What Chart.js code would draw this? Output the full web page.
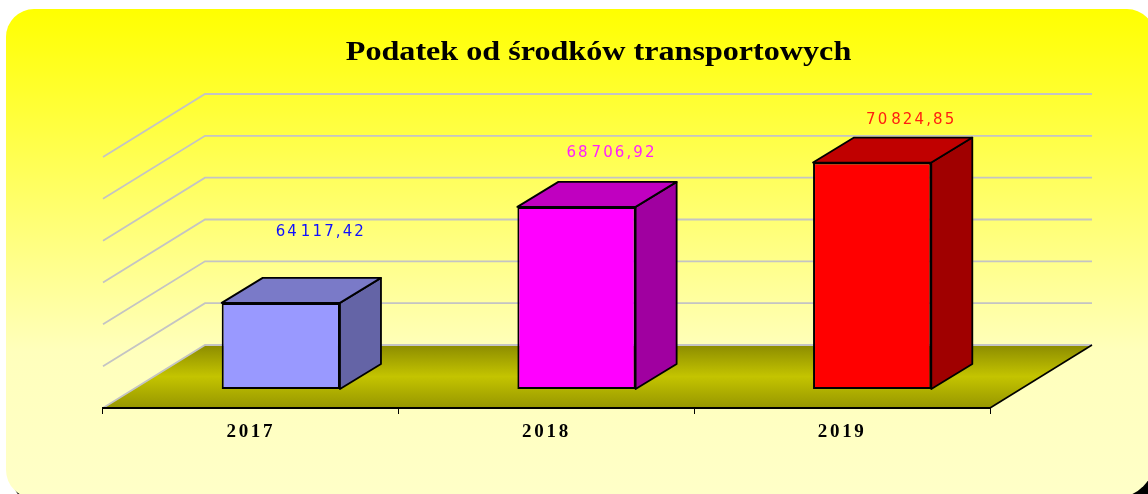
<!DOCTYPE html>
<html><head><meta charset="utf-8">
<style>html,body{margin:0;padding:0;background:#fff}canvas{display:block}</style>
<script src="https://cdn.jsdelivr.net/npm/chart.js@4"></script>
</head><body><canvas id="c" width="1148" height="494"></canvas>
<script>
const chartTitle = "Podatek od środków transportowych";
const categories = ["2017", "2018", "2019"];
const values = [64117.42, 68706.92, 70824.85];
const valueLabels = ["64 117,42", "68 706,92", "70 824,85"];
const gridValues = [60000, 62000, 64000, 66000, 68000, 70000, 72000];

const frontColors = ["#9999ff", "#ff00ff", "#ff0000"];
const topColors = ["#7a7ac8", "#c000c0", "#c00000"];
const sideColors = ["#6464a6", "#a000a0", "#a00000"];
const labelColors = ["#1010ff", "#ff20ff", "#ff2010"];
const labelLift = [71, 54, 42];
const labelShift = [70, 65, 69];

const WALL = {dx: 102, dy: -63};
const BAR_OFFSET = {dx: 30, dy: -19};
const BAR_DEPTH = {dx: 41, dy: -25};
const TITLE_STRETCH = 1.19;

function poly(ctx, pts, fill, stroke, lw) {
  ctx.beginPath();
  pts.forEach((p, i) => i ? ctx.lineTo(p[0], p[1]) : ctx.moveTo(p[0], p[1]));
  ctx.closePath();
  if (fill) { ctx.fillStyle = fill; ctx.fill(); }
  if (stroke) { ctx.strokeStyle = stroke; ctx.lineWidth = lw; ctx.lineJoin = "round"; ctx.stroke(); }
}

const scene = {
  id: "scene",
  afterLayout(chart) {
    const t = chart.titleBlock, ctx = chart.ctx;
    t.left += 52; t.right += 52;
    if (!t._wrapped) {
      t._wrapped = true;
      const d = t.draw;
      t.draw = function () {
        const cx = (t.left + t.right) / 2;
        ctx.save();
        ctx.letterSpacing = "0px";
        ctx.translate(cx, 0); ctx.scale(TITLE_STRETCH, 1); ctx.translate(-cx, 0);
        d.call(t);
        ctx.restore();
      };
    }
  },
  beforeDraw(chart) {
    const ctx = chart.ctx;
    ctx.save();
    ctx.beginPath(); ctx.roundRect(12, 15, 1148, 490, 28);
    ctx.fillStyle = "#000"; ctx.fill();
    const g = ctx.createLinearGradient(0, 9, 0, 498);
    g.addColorStop(0, "#ffff00");
    g.addColorStop(0.7, "#ffffbc");
    g.addColorStop(1, "#ffffc8");
    ctx.beginPath(); ctx.roundRect(6, 9, 1149, 489, [28, 28, 40, 28]);
    ctx.fillStyle = g; ctx.fill();
    ctx.restore();
    ctx.letterSpacing = "2.7px";
  },
  beforeDatasetsDraw(chart) {
    const ctx = chart.ctx, x = chart.scales.x, y = chart.scales.y;
    const L = x.left, R = x.right, B = y.getPixelForValue(gridValues[0]);
    ctx.save();
    ctx.letterSpacing = "0px";
    // floor
    const fg = ctx.createLinearGradient(0, B + WALL.dy, 0, B);
    fg.addColorStop(0, "#8c8c00");
    fg.addColorStop(0.5, "#c4c400");
    fg.addColorStop(1, "#969600");
    poly(ctx, [[L, B], [R, B], [R + WALL.dx, B + WALL.dy], [L + WALL.dx, B + WALL.dy]], fg);
    // walls
    ctx.strokeStyle = "#c4c4c4"; ctx.lineWidth = 1.8;
    gridValues.forEach(v => {
      const p = y.getPixelForValue(v);
      ctx.beginPath();
      ctx.moveTo(L, p);
      ctx.lineTo(L + WALL.dx, p + WALL.dy);
      ctx.lineTo(R + WALL.dx, p + WALL.dy);
      ctx.stroke();
    });
    ctx.strokeStyle = "#000"; ctx.lineWidth = 1.6;
    ctx.beginPath(); ctx.moveTo(R, B); ctx.lineTo(R + WALL.dx, B + WALL.dy); ctx.stroke();
    // bar depth faces
    chart.getDatasetMeta(0).data.forEach((bar, i) => {
      const l = bar.x - bar.width / 2 + BAR_OFFSET.dx, r = bar.x + bar.width / 2 + BAR_OFFSET.dx;
      const t = bar.y + BAR_OFFSET.dy, b = bar.base + BAR_OFFSET.dy;
      const dx = BAR_DEPTH.dx, dy = BAR_DEPTH.dy;
      poly(ctx, [[r, b], [r + dx, b + dy], [r + dx, t + dy], [r, t]], sideColors[i], "#000", 1.8);
      poly(ctx, [[l, t], [l + dx, t + dy], [r + dx, t + dy], [r, t]], topColors[i], "#000", 1.8);
    });
    ctx.restore();
    ctx.save();
    ctx.translate(BAR_OFFSET.dx, BAR_OFFSET.dy);
  },
  afterDatasetsDraw(chart) {
    const ctx = chart.ctx;
    ctx.restore();
    ctx.save();
    ctx.font = "15px 'DejaVu Sans'";
    ctx.letterSpacing = "2.1px";
    ctx.wordSpacing = "-5px";
    ctx.textAlign = "center";
    ctx.textBaseline = "middle";
    chart.getDatasetMeta(0).data.forEach((bar, i) => {
      ctx.fillStyle = labelColors[i];
      ctx.fillText(valueLabels[i], bar.x + labelShift[i], bar.y + BAR_OFFSET.dy - labelLift[i]);
    });
    ctx.restore();
  }
};

new Chart(document.getElementById("c"), {
  type: "bar",
  data: {
    labels: categories,
    datasets: [{
      data: values,
      base: gridValues[0],
      backgroundColor: frontColors,
      borderColor: "#000",
      borderWidth: 2,
      borderSkipped: false,
      barPercentage: 0.4,
      categoryPercentage: 1
    }]
  },
  options: {
    responsive: false,
    animation: false,
    layout: {padding: {left: 103, right: 158, top: 0, bottom: 44}},
    plugins: {
      legend: {display: false},
      tooltip: {enabled: false},
      title: {
        display: true,
        text: chartTitle,
        color: "#000",
        font: {family: "'Liberation Serif'", size: 27, weight: "bold", lineHeight: "30px"},
        padding: {top: 38, bottom: 89}
      }
    },
    scales: {
      x: {
        grid: {display: true, drawOnChartArea: false, drawTicks: true, tickLength: 6, color: "#000", lineWidth: 1},
        border: {display: true, color: "#000", width: 2, z: 1},
        ticks: {color: "#000", padding: 8, maxRotation: 0, font: {family: "'Liberation Serif'", size: 19, weight: "bold", lineHeight: "20px"}}
      },
      y: {display: false, min: 60000, max: 72000, ticks: {stepSize: 2000}, grid: {display: false}}
    }
  },
  plugins: [scene]
});
</script></body></html>
